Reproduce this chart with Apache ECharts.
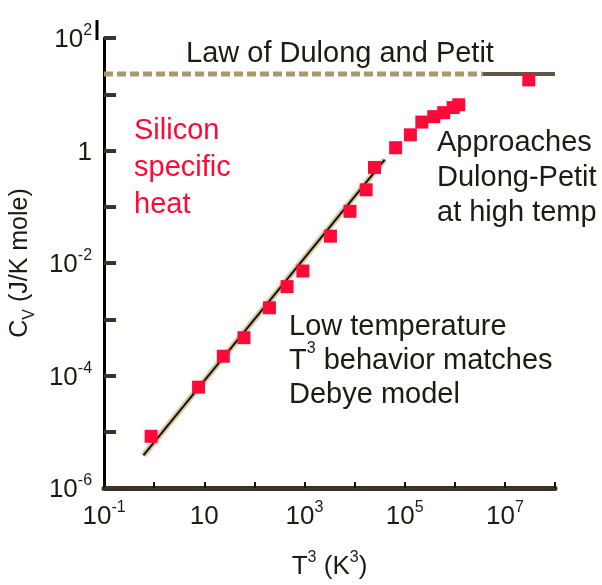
<!DOCTYPE html>
<html><head><meta charset="utf-8">
<script src="https://cdn.jsdelivr.net/npm/echarts@6/dist/echarts.min.js"></script>
<style>html,body{margin:0;padding:0;background:#fff;}#c{width:602px;height:585px;}</style>
</head><body><div id="c"></div>
<script>
// Silicon specific heat data: x = T^3 (K^3), y = C_V (J/K mole)
var siliconT3 = [0.87, 7.7, 24, 62, 200, 450, 930, 3300, 8100, 17000, 25000, 66000, 130000, 220000, 380000, 600000, 930000, 1200000, 30000000];
var siliconCv = [8.3e-6, 6.2e-5, 2.2e-4, 4.7e-4, 1.6e-3, 3.8e-3, 7.2e-3, 0.030, 0.083, 0.20, 0.50, 1.12, 1.9, 3.2, 4.0, 4.7, 5.8, 6.5, 18];
// Debye T^3 law line endpoints
var debyeT3 = [0.61, 40000];
var debyeCv = [3.8e-6, 0.69];
// Dulong-Petit limit
var dulongValue = 23;
var dulongDashedX = [0.1, 3600000];
var dulongSolidX = [3600000, 1e8];
// axes (labelled decades)
var xRange = [0.1, 1e8];
var yRange = [1e-6, 100];
var xLabelExps = [-1, 1, 3, 5, 7];
var yLabelExps = [-6, -4, -2, 0, 2];

var dark = '#1f1b10';
var red = '#ff0a38';
var font = 'Liberation Sans, Arial, sans-serif';

function pairs(xs, ys) { return xs.map(function (x, i) { return [x, ys[i]]; }); }
function makeLabel(exps) {
  return function (v) {
    var e = Math.round(Math.log10(v));
    if (exps.indexOf(e) < 0) return '';
    if (e === 0) return '{b|1}';
    if (e === 1) return '{b|10}';
    return '{b|10}{sup|' + e + '}';
  };
}
var labelRich = {
  b: { fontSize: 26, fontFamily: font, color: dark, lineHeight: 30, verticalAlign: 'bottom' },
  sup: { fontSize: 16, fontFamily: font, color: dark, lineHeight: 30, verticalAlign: 'top' }
};

var chart = echarts.init(document.getElementById('c'));
chart.setOption({
  animation: false,
  backgroundColor: '#fff',
  grid: { left: 97, right: 47, top: 38, bottom: 95, containLabel: false },
  xAxis: {
    type: 'log', logBase: 10, min: xRange[0], max: xRange[1], splitNumber: 9,
    axisLine: { show: true, lineStyle: { color: '#3a3325', width: 5 } },
    axisTick: { show: true, inside: true, interval: 0, length: 6, lineStyle: { color: '#111', width: 2 } },
    minorTick: { show: false },
    splitLine: { show: false },
    axisLabel: { interval: 0, formatter: makeLabel(xLabelExps), rich: labelRich, margin: 12 },
    name: '{b|T}{sup|3}{b| (K}{sup|3}{b|)}',
    nameLocation: 'middle', nameGap: 62,
    nameTextStyle: { rich: {
      b: { fontSize: 26, fontFamily: font, color: dark, lineHeight: 30, verticalAlign: 'bottom' },
      sup: { fontSize: 16, fontFamily: font, color: dark, lineHeight: 30, verticalAlign: 'top' }
    } }
  },
  yAxis: {
    type: 'log', logBase: 10, min: yRange[0], max: yRange[1], splitNumber: 8,
    axisLine: { show: true, lineStyle: { color: '#000', width: 3 } },
    axisTick: { show: true, inside: true, interval: 0, length: 12, lineStyle: { color: '#3d3424', width: 4 } },
    minorTick: { show: false },
    splitLine: { show: false },
    axisLabel: { interval: 0, formatter: makeLabel(yLabelExps), rich: labelRich, margin: 12 },
    name: '{b|C}{sub|V}{b| (J/K mole)}',
    nameLocation: 'middle', nameGap: 56, nameRotate: 90,
    nameTextStyle: { rich: {
      b: { fontSize: 25, fontFamily: font, color: dark, lineHeight: 30, verticalAlign: 'top' },
      sub: { fontSize: 16, fontFamily: font, color: dark, lineHeight: 30, verticalAlign: 'bottom' }
    } }
  },
  series: [
    { type: 'line', data: pairs(debyeT3, debyeCv), symbol: 'none', silent: true,
      lineStyle: { color: '#d9c99c', width: 6 }, z: 2 },
    { type: 'line', data: pairs(debyeT3, debyeCv), symbol: 'none', silent: true,
      lineStyle: { color: '#111', width: 2 }, z: 3 },
    { type: 'line', data: pairs(dulongDashedX, [dulongValue, dulongValue]), symbol: 'none', silent: true,
      lineStyle: { color: '#a8996f', width: 5, type: [9, 4] }, z: 2 },
    { type: 'line', data: pairs(dulongSolidX, [dulongValue, dulongValue]), symbol: 'none', silent: true,
      lineStyle: { color: '#5f5644', width: 4 }, z: 2 },
    { type: 'scatter', data: pairs(siliconT3, siliconCv), symbol: 'rect', symbolSize: 13,
      itemStyle: { color: red, opacity: 1 }, z: 5 }
  ],
  graphic: [
    { type: 'line', shape: { x1: 97, y1: 20, x2: 97, y2: 40 }, style: { stroke: '#000', lineWidth: 3 } },
    { type: 'text', left: 186, top: 39, style: { text: 'Law of Dulong and Petit', fontSize: 29, fontFamily: font, fill: dark } },
    { type: 'text', left: 134, top: 112, style: { text: 'Silicon\nspecific\nheat', fontSize: 29, fontFamily: font, fill: red, lineHeight: 37 } },
    { type: 'text', left: 437, top: 125, style: { text: 'Approaches\nDulong-Petit\nat high temp', fontSize: 29, fontFamily: font, fill: dark, lineHeight: 35 } },
    { type: 'text', left: 289, top: 312, style: {
      text: '{b|Low temperature}\n{b|T}{sup|3}{b| behavior matches}\n{b|Debye model}',
      rich: {
        b: { fontSize: 29, fontFamily: font, fill: dark, lineHeight: 34, verticalAlign: 'bottom' },
        sup: { fontSize: 16, fontFamily: font, fill: dark, lineHeight: 34, verticalAlign: 'top' }
      } } }
  ]
});
</script></body></html>
